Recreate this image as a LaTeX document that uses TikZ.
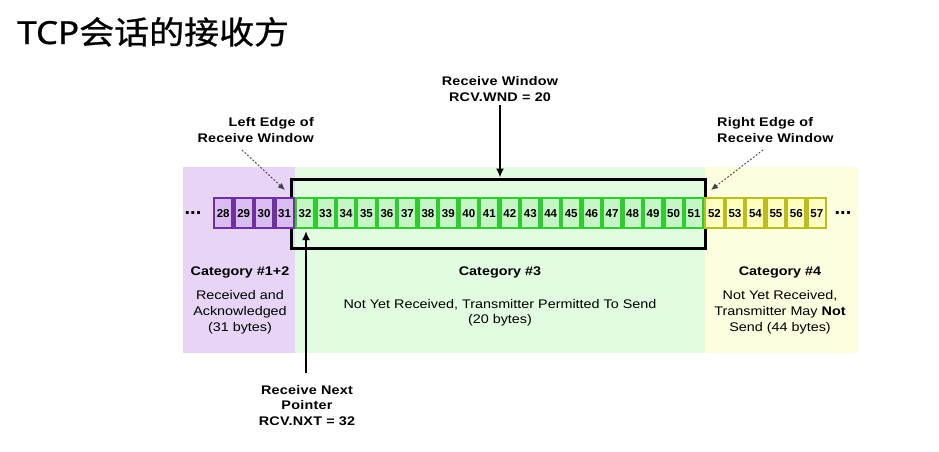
\documentclass[tikz,border=0pt]{standalone}
\usepackage{fontspec}
\setmainfont{Liberation Sans}[FakeStretch=1.15]
\newfontfamily\lblfont{Liberation Sans}[FakeStretch=1.15, LetterSpace=2]
\newfontfamily\numfont{Liberation Sans}
\newfontfamily\cjk{Noto Sans CJK SC}[FakeStretch=1.1, FakeBold=0.8]
\newfontfamily\latt{Noto Sans}[FakeStretch=1.1, FakeBold=0.8]
\usetikzlibrary{arrows.meta}
\definecolor{pbg}{HTML}{E7D4F6}
\definecolor{gbg}{HTML}{E2FCE2}
\definecolor{ybg}{HTML}{FDFDE0}
\definecolor{pdk}{HTML}{7030A0}
\definecolor{plt}{HTML}{D9BCF0}
\definecolor{gdk}{HTML}{2ECC2E}
\definecolor{glt}{HTML}{C6F6C6}
\definecolor{ydk}{HTML}{BDBD1C}
\definecolor{ylt}{HTML}{FFFFC2}
\tikzset{
  lbl/.style={font=\lblfont\fontsize{12.5}{15.3}\selectfont\bfseries, inner sep=0pt, align=center},
  cat/.style={font=\fontsize{12.5}{15}\selectfont\bfseries, inner sep=0pt, anchor=base},
  body/.style={font=\fontsize{12.5}{15.3}\selectfont, inner sep=0pt, align=center, anchor=north},
  body3/.style={body, font=\fontsize{12.5}{16}\selectfont},
  cellbox/.style={line width=2.2pt, minimum width=18.27pt, minimum height=29.8pt, inner sep=0pt, text height=8.2pt, text depth=0pt, font=\numfont\fontsize{11.5}{12}\selectfont\bfseries},
  bigarrow/.style={line width=2.5pt, -{Latex[length=9pt,width=8pt]}},
  dotarrow/.style={line width=0.9pt, dash pattern=on 1.8pt off 1.8pt, draw=black!75, -{Latex[length=7pt,width=6pt]}},
  dots/.style={font=\numfont\fontsize{20}{20}\selectfont\bfseries, inner sep=0pt}
}
\begin{document}
\begin{tikzpicture}[x=1pt,y=-1pt]
\useasboundingbox (0,0) rectangle (939,451);
\fill[white] (0,0) rectangle (939,451);
\node[anchor=base west, inner sep=0pt, font=\fontsize{31.8}{33}\selectfont] (title) at (17,44) {\latt TCP\cjk 会话的接收方};
% backgrounds
\fill[pbg] (183,167) rectangle (295,353);
\fill[gbg] (295,167) rectangle (705,353);
\fill[ybg] (705,167) rectangle (858,353);
% window frame
\draw[line width=3.6pt] (291.5,179.5) rectangle (705.5,248.5);
% cells
\foreach \i in {0,...,29}{
  \pgfmathtruncatemacro\n{28+\i}
  \ifnum\i<4 \def\dk{pdk}\def\lt{plt}\else\ifnum\i<24 \def\dk{gdk}\def\lt{glt}\else\def\dk{ydk}\def\lt{ylt}\fi\fi
  \node[cellbox, draw=\dk, fill=\lt] (c\n) at (223.2+\i*20.47,213) {\n};
}
\node[dots] (dl) at (193,213) {...};
\node[dots] (dr) at (843,213) {...};
% labels
\node[lbl] (rw) at (500,89) {Receive Window\\RCV.WND = 20};
\coordinate (rwS) at (500,105);
\coordinate (rwtip) at (500,177.5);
\draw[bigarrow] (rwS) -- (rwtip);
\node[lbl, align=right, anchor=east] (le) at (314,130) {Left Edge of\\Receive Window};
\node[lbl, align=left, anchor=west] (re) at (717,130) {Right Edge of\\Receive Window};
\coordinate (leS) at (242,150);
\coordinate (leE) at (285,190);
\coordinate (reS) at (763,150);
\coordinate (reE) at (711,190);
\draw[dotarrow] (leS) -- (leE);
\draw[dotarrow] (reS) -- (reE);
\node[lbl] (rn) at (307,405.3) {Receive Next\\Pointer\\RCV.NXT = 32};
\coordinate (rnS) at (306,373);
\coordinate (rntip) at (306,231);
\draw[bigarrow] (rnS) -- (rntip);
% categories
\node[cat] (k12) at (240,275.7) {Category \#1+2};
\node[body3] (b12) at (240,290.6) {Received and\\Acknowledged\\(31 bytes)};
\node[cat] (k3) at (500,275.7) {Category \#3};
\node[body] (b3) at (500,299.2) {Not Yet Received, Transmitter Permitted To Send\\(20 bytes)};
\node[cat] (k4) at (780,275.7) {Category \#4};
\node[body3] (b4) at (780,290.6) {Not Yet Received,\\Transmitter May \textbf{Not}\\Send (44 bytes)};
\end{tikzpicture}
\end{document}
